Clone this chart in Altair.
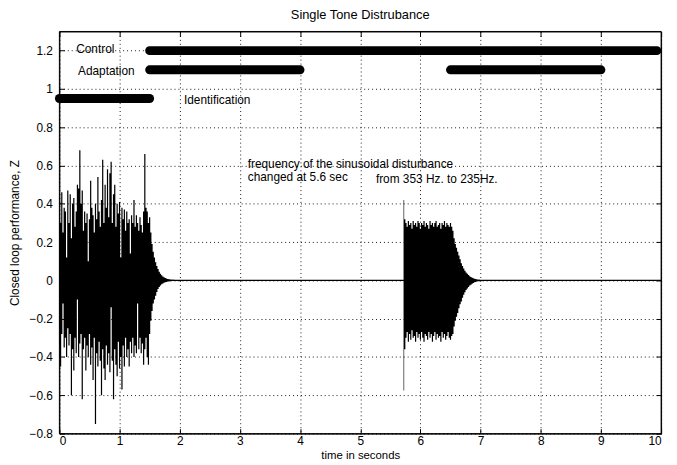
import altair as alt
import pandas as pd

F = "Liberation Sans"

# ---- data ----
x_ticks = [0, 1, 2, 3, 4, 5, 6, 7, 8, 9, 10]
y_ticks = [-0.8, -0.6, -0.4, -0.2, 0, 0.2, 0.4, 0.6, 0.8, 1, 1.2]
x_range = [0, 10]
y_range = [-0.8, 1.3]

# first burst: envelope of the signal, sampled every 0.02 s from t = 0.00
burst1_start, burst1_step = 0.0, 0.02
burst1_hi = [0.45, 0.30, 0.46, 0.25, 0.38, 0.36, 0.12, 0.47, 0.30, 0.45,
             0.22, 0.40, 0.43, 0.28, 0.36, 0.50, 0.48, 0.68, 0.40, 0.47,
             0.26, 0.36, 0.30, 0.35, 0.10, 0.32, 0.52, 0.38, 0.34, 0.25,
             0.40, 0.32, 0.54, 0.36, 0.28, 0.42, 0.63, 0.30, 0.50, 0.38,
             0.58, 0.33, 0.56, 0.62, 0.30, 0.45, 0.50, 0.28, 0.40, 0.35,
             0.41, 0.12, 0.38, 0.32, 0.37, 0.26, 0.36, 0.30, 0.32, 0.14,
             0.34, 0.30, 0.42, 0.28, 0.34, 0.30, 0.26, 0.33, 0.29, 0.25,
             0.36, 0.66, 0.38, 0.36, 0.30, 0.33, 0.25, 0.19, 0.15, 0.12,
             0.095, 0.075, 0.06, 0.045, 0.035, 0.027, 0.02, 0.016, 0.012, 0.01,
             0.008, 0.006, 0.005, 0.004, 0.003, 0.003, 0.002, 0.002, 0.002, 0.002]
burst1_lo = [-0.33, -0.45, -0.28, -0.12, -0.35, -0.30, -0.40, -0.25, -0.34, -0.28,
             -0.60, -0.36, -0.47, -0.30, -0.38, -0.10, -0.40, -0.33, -0.28, -0.62,
             -0.36, -0.30, -0.47, -0.34, -0.40, -0.28, -0.44, -0.35, -0.52, -0.30,
             -0.75, -0.38, -0.45, -0.32, -0.42, -0.60, -0.36, -0.46, -0.52, -0.34,
             -0.44, -0.38, -0.48, -0.14, -0.42, -0.62, -0.36, -0.44, -0.50, -0.32,
             -0.46, -0.40, -0.57, -0.34, -0.45, -0.30, -0.40, -0.36, -0.45, -0.32,
             -0.38, -0.30, -0.40, -0.34, -0.38, -0.12, -0.36, -0.30, -0.38, -0.33,
             -0.44, -0.36, -0.30, -0.40, -0.44, -0.28, -0.21, -0.16, -0.12, -0.10,
             -0.08, -0.06, -0.045, -0.035, -0.027, -0.02, -0.016, -0.012, -0.01, -0.008,
             -0.006, -0.005, -0.004, -0.003, -0.003, -0.002, -0.002, -0.002, -0.002, -0.002]

# second burst: envelope sampled every 0.02 s from t = 5.72
burst2_start, burst2_step = 5.72, 0.02
burst2_hi = [0.42, 0.32, 0.30, 0.28, 0.31, 0.29, 0.30, 0.27, 0.31, 0.29,
             0.30, 0.28, 0.31, 0.30, 0.27, 0.30, 0.29, 0.31, 0.28, 0.30,
             0.29, 0.27, 0.31, 0.29, 0.30, 0.28, 0.30, 0.31, 0.28, 0.29,
             0.30, 0.27, 0.30, 0.29, 0.31, 0.28, 0.30, 0.29, 0.28, 0.30,
             0.28,
             0.26, 0.22, 0.19, 0.17, 0.15, 0.13, 0.11, 0.09, 0.075, 0.062,
             0.05, 0.042, 0.035, 0.028, 0.022, 0.018, 0.014, 0.011, 0.009, 0.007,
             0.005, 0.004, 0.003, 0.002]
burst2_lo = [-0.575, -0.36, -0.30, -0.27, -0.32, -0.28, -0.31, -0.26, -0.30, -0.29,
             -0.32, -0.27, -0.30, -0.28, -0.31, -0.27, -0.30, -0.32, -0.28, -0.29,
             -0.31, -0.27, -0.30, -0.28, -0.32, -0.29, -0.27, -0.31, -0.28, -0.30,
             -0.29, -0.32, -0.27, -0.30, -0.28, -0.31, -0.29, -0.27, -0.30, -0.31,
             -0.29,
             -0.28, -0.24, -0.21, -0.19, -0.17, -0.145, -0.125, -0.11, -0.09, -0.075,
             -0.062, -0.05, -0.042, -0.034, -0.027, -0.022, -0.017, -0.013, -0.01, -0.008,
             -0.006, -0.004, -0.003, -0.002]

# mode bars (start, end, level)
mode_names = ["Identification", "Control", "Adaptation", "Adaptation"]
mode_start = [0.0, 1.5, 1.5, 6.5]
mode_end = [1.5, 9.93, 4.0, 9.0]
mode_level = [0.95, 1.2, 1.1, 1.1]

# annotations
label_text = ["Control", "Adaptation", "Identification",
              "frequency of the sinusoidal disturbance", "changed at 5.6 sec",
              "from 353 Hz. to 235Hz."]
label_t = [0.28, 0.31, 2.07, 3.13, 3.13, 5.26]
label_v = [1.21, 1.095, 0.94, 0.61, 0.54, 0.53]

# ---- tables ----
sig_rows = []
for name, start, step, hi, lo in [("b1", burst1_start, burst1_step, burst1_hi, burst1_lo),
                                  ("b2", burst2_start, burst2_step, burst2_hi, burst2_lo)]:
    for i, (h, l) in enumerate(zip(hi, lo)):
        sig_rows.append({"burst": name, "t": round(start + step * i, 3), "hi": h, "lo": l})
sig_df = pd.DataFrame(sig_rows)
zero_df = pd.DataFrame({"x0": [x_range[0]], "x1": [x_range[1]], "y": [0]})
frame_df = pd.DataFrame({"x0": [x_range[0]], "x1": [x_range[1]],
                         "y0": [y_range[0]], "y1": [y_range[1]]})
mode_df = pd.DataFrame({"mode": mode_names, "start": mode_start, "end": mode_end, "level": mode_level})
lab_df = pd.DataFrame({"label": label_text, "t": label_t, "v": label_v})

xs = alt.Scale(domain=x_range, nice=False, zero=False)
ys = alt.Scale(domain=y_range, nice=False, zero=False)

common = dict(labelFont=F, titleFont=F, labelColor="black", titleColor="black",
              labelFontSize=12, titleFontWeight="normal")

main_x = alt.Axis(values=x_ticks, format="d", tickSize=0, domain=False, grid=True,
                  gridColor="black", gridDash=[1, 3], gridWidth=1, gridOpacity=0.9,
                  labelPadding=2, title="time in seconds", titlePadding=3, titleFontSize=11.5,
                  **common)
main_y = alt.Axis(values=y_ticks, format="~g", tickSize=0, domain=False,
                  grid=True, gridColor="black", gridDash=[1, 3], gridWidth=1, gridOpacity=0.9,
                  labelPadding=7, title="Closed loop performance, Z", titlePadding=8,
                  titleFontSize=12, **common)

def tick_axis(orient, vals):
    return alt.Axis(orient=orient, values=vals, offset=-5, tickSize=5, tickColor="black",
                    tickWidth=1, labels=False, domain=False, grid=False, title=None)

zero = alt.Chart(zero_df).mark_rule(color="black", strokeWidth=1.3).encode(
    x=alt.X("x0:Q", scale=xs, axis=main_x), x2="x1:Q",
    y=alt.Y("y:Q", scale=ys, axis=main_y))

signal = alt.Chart(sig_df).mark_area(color="black", interpolate="step", opacity=1).encode(
    x=alt.X("t:Q", scale=xs, axis=tick_axis("bottom", x_ticks)),
    y=alt.Y("lo:Q", scale=ys, axis=tick_axis("left", y_ticks)), y2="hi:Q",
    detail="burst:N")

modes = alt.Chart(mode_df).mark_rule(color="black", strokeWidth=9, strokeCap="round").encode(
    x=alt.X("start:Q", scale=xs, axis=None), x2="end:Q",
    y=alt.Y("level:Q", scale=ys, axis=None))

frame = alt.Chart(frame_df).mark_rect(fillOpacity=0, stroke="black", strokeWidth=1).encode(
    x=alt.X("x0:Q", scale=xs, axis=None), x2="x1:Q",
    y=alt.Y("y0:Q", scale=ys, axis=None), y2="y1:Q")

labels = alt.Chart(lab_df).mark_text(align="left", baseline="middle", font=F, fontSize=12,
                                     color="black").encode(
    x=alt.X("t:Q", scale=xs, axis=tick_axis("top", x_ticks)),
    y=alt.Y("v:Q", scale=ys, axis=tick_axis("right", y_ticks)), text="label:N")

chart = alt.layer(zero, signal, modes, frame, labels).resolve_axis(
    x="independent", y="independent").properties(
    width=609, height=407, autosize="none",
    padding={"left": 52, "top": 21, "right": 8, "bottom": 29},
    title=alt.TitleParams("Single Tone Distrubance", font=F, fontSize=13, fontWeight="normal",
                          color="black", offset=9),
).configure(background="white").configure_view(stroke="black", strokeWidth=1)

chart.save("out.html", embed_options={"renderer": "svg", "actions": False})
